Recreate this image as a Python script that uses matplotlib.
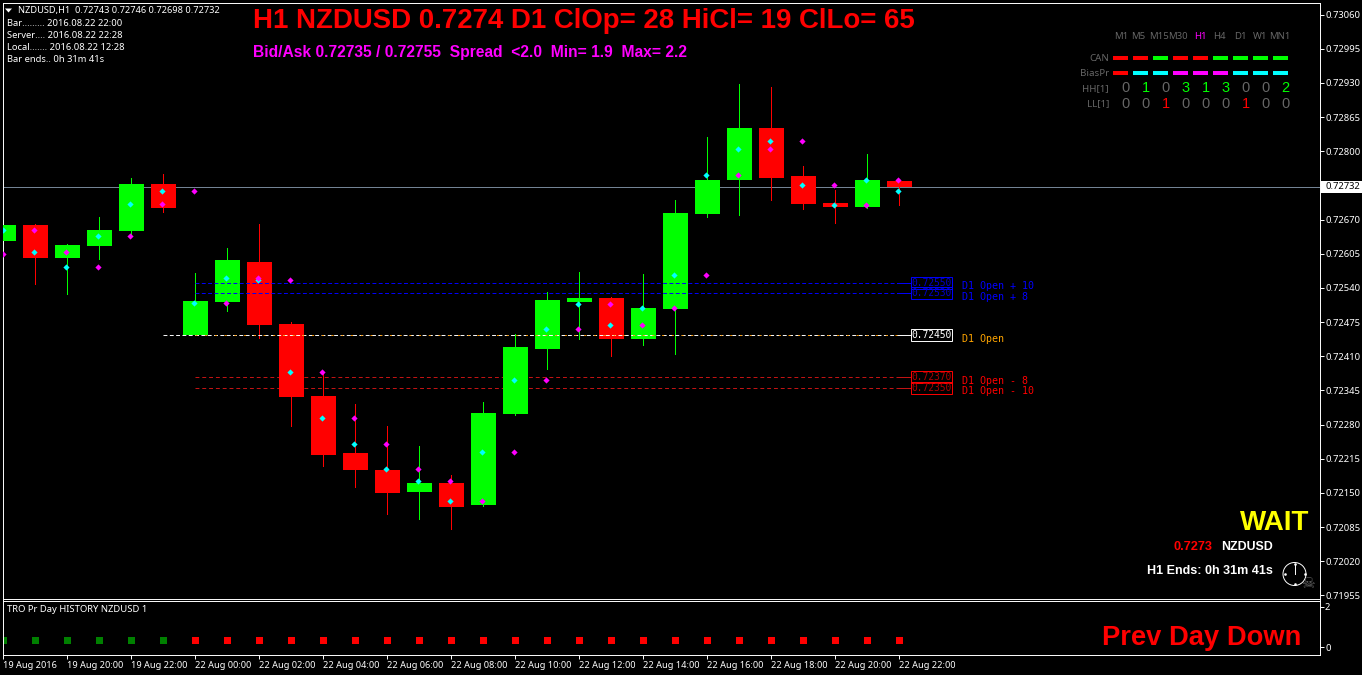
import matplotlib
matplotlib.use("Agg")
import matplotlib.pyplot as plt
from matplotlib.patches import Rectangle, Circle

opens = [0.72629, 0.72659, 0.72596, 0.72620, 0.72648, 0.72737, 0.72450, 0.72513, 0.72589, 0.72471,
         0.72334, 0.72226, 0.72193, 0.72152, 0.72169, 0.72127, 0.72300, 0.72423, 0.72513, 0.72520,
         0.72442, 0.72499, 0.72680, 0.72745, 0.72845, 0.72752, 0.72701, 0.72693, 0.72743]
highs = [0.72688, 0.72661, 0.72623, 0.72674, 0.72750, 0.72756, 0.72568, 0.72615, 0.72661, 0.72475,
         0.72380, 0.72319, 0.72277, 0.72239, 0.72184, 0.72323, 0.72452, 0.72532, 0.72570, 0.72522,
         0.72566, 0.72707, 0.72828, 0.72927, 0.72923, 0.72771, 0.72726, 0.72794, 0.72746]
lows = [0.72596, 0.72547, 0.72528, 0.72595, 0.72642, 0.72684, 0.72450, 0.72496, 0.72445, 0.72278,
        0.72202, 0.72162, 0.72110, 0.72101, 0.72082, 0.72125, 0.72298, 0.72385, 0.72442, 0.72410,
        0.72431, 0.72414, 0.72674, 0.72678, 0.72708, 0.72691, 0.72663, 0.72692, 0.72698]
closes = [0.72659, 0.72596, 0.72621, 0.72650, 0.72737, 0.72692, 0.72515, 0.72593, 0.72470, 0.72333,
          0.72222, 0.72193, 0.72150, 0.72169, 0.72123, 0.72302, 0.72427, 0.72517, 0.72520, 0.72442,
          0.72501, 0.72682, 0.72746, 0.72845, 0.72750, 0.72699, 0.72693, 0.72745, 0.72732]

cyan_dots = [0.72650, 0.72608, 0.72579, 0.72638, 0.72699, 0.72724, 0.72511, 0.72558, 0.72555, 0.72380,
             0.72292, 0.72243, 0.72195, 0.72173, 0.72135, 0.72228, 0.72364, 0.72461, 0.72509, 0.72469,
             0.72501, 0.72564, 0.72754, 0.72805, 0.72819, 0.72735, 0.72697, 0.72745, 0.72724]
magenta_dots = [0.72604, 0.72650, 0.72608, 0.72579, 0.72638, 0.72699, 0.72724, 0.72511, 0.72558, 0.72555,
                0.72380, 0.72292, 0.72243, 0.72195, 0.72173, 0.72135, 0.72228, 0.72364, 0.72461, 0.72509,
                0.72469, 0.72501, 0.72564, 0.72754, 0.72805, 0.72819, 0.72735, 0.72697, 0.72745]

history_value = 0.35
green_history_bars = 6

price_ticks = [0.73060, 0.72995, 0.72930, 0.72865, 0.72800, 0.72735, 0.72670, 0.72605, 0.72540, 0.72475,
               0.72410, 0.72345, 0.72280, 0.72215, 0.72150, 0.72085, 0.72020, 0.71955]
time_labels = ["19 Aug 2016", "19 Aug 20:00", "19 Aug 22:00", "22 Aug 00:00", "22 Aug 02:00",
               "22 Aug 04:00", "22 Aug 06:00", "22 Aug 08:00", "22 Aug 10:00", "22 Aug 12:00",
               "22 Aug 14:00", "22 Aug 16:00", "22 Aug 18:00", "22 Aug 20:00", "22 Aug 22:00"]

last_price = 0.72732
d1_open = 0.72450
upper_levels = [0.72550, 0.72530]
lower_levels = [0.72370, 0.72350]
upper_names = ["D1 Open + 10", "D1 Open + 8"]
lower_names = ["D1 Open - 8", "D1 Open - 10"]

periods = ["M1", "M5", "M15", "M30", "H1", "H4", "D1", "W1", "MN1"]
can_state = ["r", "r", "g", "r", "r", "g", "g", "g", "g"]
bias_state = ["r", "c", "c", "m", "m", "m", "c", "c", "c"]
hh_counts = [0, 1, 0, 3, 1, 3, 0, 0, 2]
ll_counts = [0, 0, 1, 0, 0, 0, 1, 0, 0]

info_lines = ["Bar......... 2016.08.22 22:00", "Server.... 2016.08.22 22:28",
              "Local....... 2016.08.22 12:28", "Bar ends.. 0h 31m 41s"]

W, H = 1362, 675
RED, GREEN, CYAN, MAGENTA = "#ff0000", "#00ff00", "#00ffff", "#ff00ff"
state_colors = {"r": RED, "g": GREEN, "c": CYAN, "m": MAGENTA}
GRAY = "#666666"
SMALL = "Noto Sans"
MONO = "DejaVu Sans Mono"
THIN = 0.7  # just under one pixel, so lines snap onto a single row

plt.rcParams["font.family"] = "Liberation Sans"
fig = plt.figure(figsize=(W / 100, H / 100), dpi=100, facecolor="black")


def axes_box(left, top, right, bottom):
    return [left / W, 1 - bottom / H, (right - left) / W, (bottom - top) / H]


ax = fig.add_axes(axes_box(2.5, 2.5, 1319.5, 598.5), facecolor="black")
panel = fig.add_axes(axes_box(2.5, 600.5, 1319.5, 654.5), facecolor="black")
over = fig.add_axes([0, 0, 1, 1])
over.set_xlim(0, W)
over.set_ylim(H, 0)
over.axis("off")

x_vals = list(range(len(opens)))
xlim = (-0.03, 41.13)

for a in (ax, panel):
    a.set_xlim(*xlim)
    for s in a.spines.values():
        s.set_color("white")
        s.set_linewidth(THIN)
    a.tick_params(colors="white", width=THIN, length=3, pad=1)

ax.set_ylim(0.71949, 0.73083)
ax.set_xticks([])
ax.yaxis.tick_right()
ax.set_yticks(price_ticks)
# the tick next to the last price sits under the price tag
ax.set_yticklabels(["" if abs(p - last_price) < 0.0001 else "%.5f" % p for p in price_ticks],
                   fontsize=6.8, family=SMALL)

ax.axhline(last_price, color="#778899", lw=THIN, zorder=1)

for i in x_vals:
    up = closes[i] >= opens[i]
    col = GREEN if up else RED
    ax.vlines(i, lows[i], highs[i], color=col, lw=THIN, zorder=2, antialiased=False)
    ax.bar(i, abs(closes[i] - opens[i]), bottom=min(opens[i], closes[i]), width=0.78,
           color=col, linewidth=0, zorder=3, antialiased=False)

end_x = x_vals[-1]
box_x = end_x + 0.33
ax.plot([5, end_x], [d1_open, d1_open], color="white", lw=THIN, dashes=(4, 2.5), zorder=4)
ax.plot([6, end_x], [d1_open, d1_open], color="#ff9a00", lw=THIN, dashes=(2, 8), zorder=5)
ax.plot([end_x, box_x], [d1_open, d1_open], color="white", lw=THIN, zorder=4)
for lev in upper_levels:
    ax.plot([6, end_x], [lev, lev], color="#0000ff", lw=THIN, dashes=(4, 2.5), zorder=4)
    ax.plot([end_x, box_x], [lev, lev], color="#0000ff", lw=THIN, zorder=4)
for lev in lower_levels:
    ax.plot([6, end_x], [lev, lev], color="#c81414", lw=THIN, dashes=(4, 3), zorder=1)
    ax.plot([end_x, box_x], [lev, lev], color="#c81414", lw=THIN, zorder=1)

ax.scatter([i - 0.03 for i in x_vals], cyan_dots, marker="D", s=10, color=CYAN, linewidths=0, zorder=6)
ax.scatter([i - 0.03 for i in x_vals], magenta_dots, marker="D", s=10, color=MAGENTA, linewidths=0, zorder=7)

panel.set_ylim(-0.35, 2.32)
panel.yaxis.tick_right()
panel.set_yticks([0, 2])
panel.set_yticklabels(["0", "2"], fontsize=6.8, family=SMALL)
panel.set_xticks(x_vals[::2])
panel.set_xticklabels(time_labels, fontsize=6.6, family=SMALL, ha="left")
panel.tick_params(axis="x", pad=1.5)
colors = ["#008000"] * green_history_bars + [RED] * (len(x_vals) - green_history_bars)
panel.scatter(x_vals, [history_value] * len(x_vals), marker="s", s=24, c=colors, linewidths=0)


def label(x, y, s, **kw):
    kw.setdefault("va", "center")
    kw.setdefault("color", "white")
    over.text(x, y, s, **kw)


# top left info block
over.fill([5, 12, 8.5], [8.5, 8.5, 12.5], color="white", lw=0)
label(18, 10.5, "NZDUSD,H1  0.72743 0.72746 0.72698 0.72732", fontsize=6.65, family=SMALL)
for n, line in enumerate(info_lines):
    label(7, 23.5 + 12 * n, line, fontsize=6.75, family=SMALL)

label(253, 20.5, "H1 NZDUSD 0.7274 D1 ClOp= 28 HiCl= 19 ClLo= 65", color=RED, fontsize=19.9, fontweight="bold")
label(253, 52, "Bid/Ask 0.72735 / 0.72755  Spread  <2.0  Min= 1.9  Max= 2.2", color=MAGENTA,
      fontsize=11.25, fontweight="bold")

# timeframe table
header_x = [1121.5, 1138.5, 1159, 1178, 1200.5, 1219, 1240, 1260, 1280]
for n, name in enumerate(periods):
    label(header_x[n], 36.5, name, ha="center", fontsize=6.9, family=SMALL,
          color=MAGENTA if name == "H1" else GRAY)
    left = 1113 + 20 * n
    over.add_patch(Rectangle((left, 56), 15, 4, color=state_colors[can_state[n]], lw=0))
    over.add_patch(Rectangle((left, 71), 15, 4, color=state_colors[bias_state[n]], lw=0))
    cx = 1125.5 + 20 * n
    label(cx, 88.5, str(hh_counts[n]), ha="center", fontsize=10.5,
          color=GREEN if hh_counts[n] else GRAY)
    label(cx, 103.5, str(ll_counts[n]), ha="center", fontsize=10.5,
          color=RED if ll_counts[n] else GRAY)
for y, name in zip([58.5, 73.5, 88.5, 103.5], ["CAN", "BiasPr", "HH[1]", "LL[1]"]):
    label(1109, y, name, ha="right", fontsize=7, family=SMALL, color=GRAY)

# level boxes, placed from the prices


def level_y(p):
    return 2.5 + (0.73083 - p) / (0.73083 - 0.71949) * 596


for lev, col in zip(upper_levels + [d1_open] + lower_levels, ["#0000ff"] * 2 + ["white"] + ["#ff0000"] * 2):
    yy = level_y(lev)
    h = 12
    over.add_patch(Rectangle((910.5, yy - h / 2), 41, h, fill=False, edgecolor=col, lw=THIN))
    label(931, yy, "%.5f" % lev, ha="center", fontsize=6.9, family=MONO,
          color="#b00000" if col == "#ff0000" else ("#0000c8" if col == "#0000ff" else "white"))

for lev, name in zip(upper_levels, upper_names):
    label(962, level_y(lev) + 3.5, name, color="#0000ff", fontsize=7.2, family=MONO)
label(962, level_y(d1_open) + 3.5, "D1 Open", color="#ffa500", fontsize=7.2, family=MONO)
for lev, name in zip(lower_levels, lower_names):
    label(962, level_y(lev) + 3.5, name, color="#ff0000", fontsize=7.2, family=MONO)

# current price tag
over.add_patch(Rectangle((1321, 180.5), 41, 12, color="white", lw=0, zorder=5))
label(1325, 186.5, "%.5f" % last_price, color="black", fontsize=6.8, family=SMALL, zorder=6)

# bottom right block
label(1309, 522.5, "WAIT", ha="right", color="#ffff00", fontsize=20, fontweight="bold")
label(1213, 547.5, "0.7273", ha="right", color=RED, fontsize=9.2, fontweight="bold")
label(1273, 547.5, "NZDUSD", ha="right", fontsize=8.9, fontweight="bold")
label(1273, 571.5, "H1 Ends: 0h 31m 41s", ha="right", fontsize=9, fontweight="bold")

over.add_patch(Circle((1294.5, 574), 11.5, fill=False, edgecolor="white", lw=THIN))
over.plot([1294.5, 1294.5], [574, 564], color="white", lw=THIN)
for dx, dy in [(0, -10), (10, 0), (0, 10), (-10, 0)]:
    over.plot(1294.5 + dx, 574 + dy, marker="s", ms=0.8, color="white")
label(1308, 584, "\u2620", ha="center", color="#666666", fontsize=11, family="DejaVu Sans")

label(7, 609.5, "TRO Pr Day HISTORY NZDUSD 1", fontsize=6.8, family=SMALL)
label(1301, 638, "Prev Day Down", ha="right", color=RED, fontsize=19.7, fontweight="bold")

fig.savefig("out.png", dpi=100, facecolor="black")
